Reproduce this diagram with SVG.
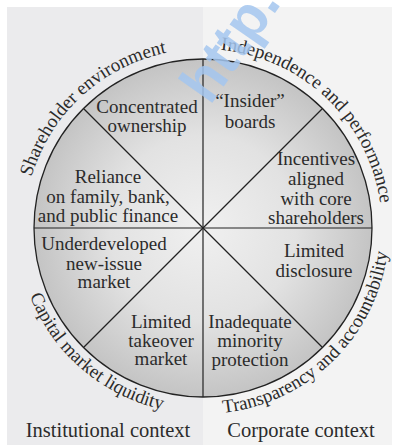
<svg xmlns="http://www.w3.org/2000/svg" width="399" height="445" viewBox="0 0 399 445">
  <defs>
    <radialGradient id="discFill" cx="203" cy="228" r="169" gradientUnits="userSpaceOnUse">
      <stop offset="0" stop-color="#f0f0f0"/>
      <stop offset="0.55" stop-color="#e2e2e2"/>
      <stop offset="1" stop-color="#c4c4c4"/>
    </radialGradient>
    <!-- baseline arcs for the curved labels -->
    <path id="arcTop" d="M24,228 A179,179 0 0 1 382,228"/>
    <path id="arcBottom" d="M17,228 A186,186 0 0 0 389,228"/>
  </defs>
  <style>
    text { font-family: "Liberation Serif", "Times New Roman", serif; fill: #2b2b2b; }
    .lbl { font-size: 19px; text-anchor: middle; }
    .ring { font-size: 19px; }
    .ctx { font-size: 20.5px; text-anchor: middle; }
    .spoke { stroke: #222; stroke-width: 1.2; fill: none; }
    .mark { font-family: "Liberation Sans", Arial, sans-serif; font-weight: bold; font-size: 58px; fill: #a3c6ef; fill-opacity: 0.85; }
  </style>

  <!-- context panels -->
  <rect x="7" y="7" width="196" height="438" fill="#ebebed"/>
  <rect x="203" y="7" width="189" height="438" fill="#f3f3f3"/>

  <!-- disc -->
  <g id="disc">
    <circle cx="203" cy="228" r="169" fill="url(#discFill)" stroke="#222" stroke-width="1.3"/>
  </g>

  <!-- sector dividers -->
  <g id="connectors" class="spoke">
    <line x1="203" y1="59" x2="203" y2="397"/>
    <line x1="34" y1="228" x2="372" y2="228"/>
    <line x1="83.5" y1="108.5" x2="322.5" y2="347.5"/>
    <line x1="322.5" y1="108.5" x2="83.5" y2="347.5"/>
  </g>

  <!-- sector labels -->
  <g id="concentrated-ownership">
    <text class="lbl" x="147" y="113">Concentrated</text>
    <text class="lbl" x="147" y="132">ownership</text>
  </g>
  <g id="insider-boards">
    <text class="lbl" x="250" y="107">“Insider”</text>
    <text class="lbl" x="250" y="128">boards</text>
  </g>
  <g id="incentives">
    <text class="lbl" x="316" y="165">Incentives</text>
    <text class="lbl" x="316" y="185">aligned</text>
    <text class="lbl" x="316" y="205">with core</text>
    <text class="lbl" x="316" y="224">shareholders</text>
  </g>
  <g id="limited-disclosure">
    <text class="lbl" x="314" y="257">Limited</text>
    <text class="lbl" x="314" y="277">disclosure</text>
  </g>
  <g id="minority-protection">
    <text class="lbl" x="250" y="328">Inadequate</text>
    <text class="lbl" x="250" y="347">minority</text>
    <text class="lbl" x="250" y="366">protection</text>
  </g>
  <g id="takeover-market">
    <text class="lbl" x="161" y="328">Limited</text>
    <text class="lbl" x="161" y="347">takeover</text>
    <text class="lbl" x="161" y="365">market</text>
  </g>
  <g id="new-issue-market">
    <text class="lbl" x="104" y="250">Underdeveloped</text>
    <text class="lbl" x="104" y="270">new-issue</text>
    <text class="lbl" x="104" y="288">market</text>
  </g>
  <g id="reliance-finance">
    <text class="lbl" x="108" y="183">Reliance</text>
    <text class="lbl" x="108" y="203">on family, bank,</text>
    <text class="lbl" x="108" y="222">and public finance</text>
  </g>

  <!-- ring labels -->
  <g id="shareholder-environment">
    <text class="ring"><textPath href="#arcTop" startOffset="148" text-anchor="middle">Shareholder environment</textPath></text>
  </g>
  <g id="independence-performance">
    <text class="ring"><textPath href="#arcTop" startOffset="418" text-anchor="middle">Independence and performance</textPath></text>
  </g>
  <g id="capital-market-liquidity">
    <text class="ring"><textPath href="#arcBottom" startOffset="160" text-anchor="middle">Capital market liquidity</textPath></text>
  </g>
  <g id="transparency-accountability">
    <text class="ring"><textPath href="#arcBottom" startOffset="436" text-anchor="middle">Transparency and accountability</textPath></text>
  </g>

  <!-- context captions -->
  <g id="institutional-context">
    <text class="ctx" x="108" y="437">Institutional context</text>
  </g>
  <g id="corporate-context">
    <text class="ctx" x="301" y="437">Corporate context</text>
  </g>

  <!-- faint watermark -->
  <text class="mark" x="210" y="106" transform="rotate(-55 210 106)">http.</text>
</svg>
